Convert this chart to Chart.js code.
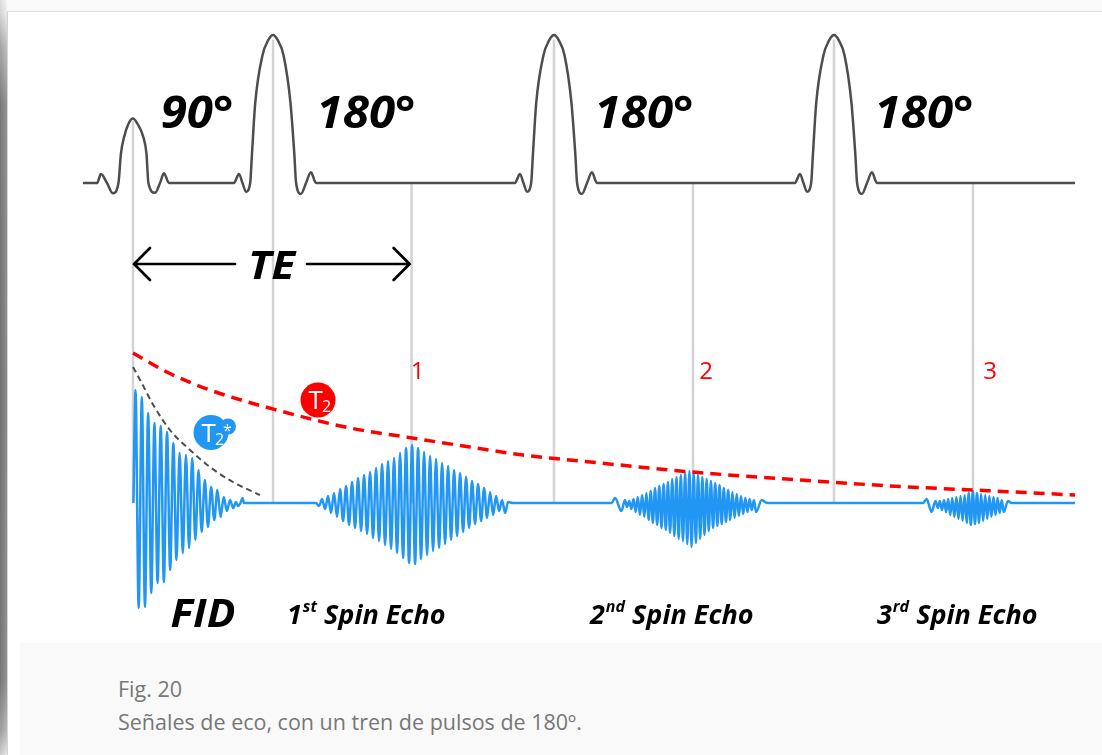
<!DOCTYPE html>
<html lang="es">
<head>
<meta charset="utf-8">
<title>Señales de eco</title>
<script src="https://cdn.jsdelivr.net/npm/chart.js@4.4.1/dist/chart.umd.min.js"></script>
<style>
  html, body { margin: 0; padding: 0; background: #f9f9f9; }
  #page { position: relative; width: 1102px; height: 755px; overflow: hidden; background: #f9f9f9; }
  #shade {
    position: absolute; left: 0; top: 0; width: 7px; height: 755px;
    background:
      linear-gradient(to right, rgba(0,0,0,0.10), rgba(255,255,255,0.12)),
      linear-gradient(to bottom, #f6f6f6 0px, #ececec 12px, #b8b8b8 45px, #868686 105px,
                      #7c7c7c 400px, #848484 680px, #aeaeae 730px, #e2e2e2 755px);
  }
  #panel {
    position: absolute; left: 7px; top: 11px; right: 0; bottom: 0;
    background: #fff; border-top: 1px solid #dedede; border-left: 1px solid #d4d4d4;
  }
  #caption { position: absolute; left: 20px; top: 643px; right: 0; bottom: 0; background: #f9f9f9; }
  #captext {
    position: absolute; left: 98px; top: 29px;
    font-family: "Open Sans", sans-serif; font-size: 21.5px; line-height: 33px; color: #777;
    white-space: nowrap;
  }
  #chart { position: absolute; left: 0; top: 0; }
</style>
</head>
<body>
<div id="page">
  <div id="shade"></div>
  <div id="panel"></div>
  <div id="caption">
    <div id="captext">Fig. 20<br>Señales de eco, con un tren de pulsos de 180º.</div>
  </div>
  <canvas id="chart" width="1102" height="755"></canvas>
</div>
<script>
// ---- timing (ms) ----
const PULSE_TIMES = [0, 10, 30.07, 50.07];
const PULSE_LABELS = ['90°', '180°', '180°', '180°'];
const ECHO_TIMES = [19.9, 40.0, 60.0];
const ECHO_NUMBERS = ['1', '2', '3'];
const ECHO_NAMES = [['1', 'st'], ['2', 'nd'], ['3', 'rd']];
const RF_START = -3.57, RF_END = 67.29, SIGNAL_END = 67.29;

// ---- RF pulse outlines: [offset ms, amplitude (180° = 1)] ----
const PULSE_90_SHAPE = [[-2.57, 0], [-2.29, 0.06], [-1.86, 0], [-1.43, -0.07], [-1.04, 0], [-0.86, 0.2],
  [-0.64, 0.31], [-0.32, 0.40], [0, 0.435], [0.32, 0.40], [0.74, 0.31], [0.96, 0.2], [1.1, 0],
  [1.57, -0.066], [1.93, 0], [2.21, 0.066], [2.57, 0]];
const PULSE_180_SHAPE = [[-2.79, 0], [-2.43, 0.061], [-2.18, 0], [-1.93, -0.059], [-1.63, 0], [-1.5, 0.2],
  [-1.27, 0.54], [-0.76, 0.86], [-0.34, 0.965], [0, 1], [0.34, 0.965], [0.76, 0.86], [1.25, 0.54],
  [1.52, 0.2], [1.65, 0], [2.0, -0.074], [2.36, 0], [2.71, 0.072], [3.07, 0]];

// ---- received signal: alternating extrema of each burst ----
const FID_START = 0.18, FID_STEP = 0.225;
const FID_PEAKS = [1.13, -1.05, 1.06, -1.04, 0.90, -0.90, 0.80, -0.80, 0.77, -0.79, 0.71, -0.67,
  0.60, -0.57, 0.50, -0.50, 0.48, -0.45, 0.45, -0.37, 0.33, -0.29, 0.23, -0.24, 0.16, -0.17,
  0.13, -0.14, 0.06, -0.08, 0.03, -0.05];
const FID_TAIL = [[7.36, 0.01], [7.5, -0.03], [7.68, 0], [7.82, 0.05], [7.93, 0]];

const ECHO1_LEAD = [[13.07, 0]];
const ECHO1_START = 13.29, ECHO1_STEP = 0.2143;
const ECHO1_PEAKS = [-0.03, 0.04, -0.06, 0.07, -0.10, 0.10, -0.14, 0.14, -0.18, 0.17, -0.22, 0.21,
  -0.25, 0.25, -0.28, 0.28, -0.31, 0.31, -0.35, 0.35, -0.38, 0.39, -0.42, 0.42, -0.46, 0.45,
  -0.50, 0.50, -0.55, 0.55, -0.60, 0.58, -0.61, 0.55, -0.56, 0.51, -0.52, 0.47, -0.48, 0.44,
  -0.45, 0.40, -0.41, 0.37, -0.37, 0.33, -0.33, 0.30, -0.29, 0.26, -0.25, 0.22, -0.21, 0.19,
  -0.18, 0.15, -0.15, 0.11, -0.12, 0.07, -0.08, 0.03, -0.10];
const ECHO1_TAIL = [[26.79, 0.01], [27.14, 0]];

const ECHO2_LEAD = [[34.19, 0], [34.43, 0.05], [34.89, -0.08], [35.14, 0.03]];
const ECHO2_START = 35.29, ECHO2_STEP = 0.1536;
const ECHO2_PEAKS = [-0.04, 0.02, -0.06, 0.04, -0.09, 0.06, -0.12, 0.08, -0.14, 0.10, -0.17, 0.12,
  -0.20, 0.15, -0.22, 0.17, -0.25, 0.19, -0.27, 0.21, -0.30, 0.24, -0.33, 0.26, -0.36, 0.28,
  -0.38, 0.30, -0.41, 0.32, -0.44, 0.30, -0.40, 0.28, -0.36, 0.26, -0.32, 0.24, -0.28, 0.22,
  -0.25, 0.20, -0.23, 0.18, -0.21, 0.15, -0.19, 0.13, -0.17, 0.11, -0.15, 0.09, -0.13, 0.07,
  -0.11, 0.05, -0.09, 0.04, -0.07, 0.03, -0.09];
const ECHO2_TAIL = [[44.91, 0.03], [45.29, 0]];

const ECHO3_LEAD = [[56.43, 0], [56.69, 0.04], [57.04, -0.09], [57.32, 0.02]];
const ECHO3_START = 57.49, ECHO3_STEP = 0.1471;
const ECHO3_PEAKS = [-0.05, 0.02, -0.07, 0.03, -0.09, 0.04, -0.12, 0.05, -0.14, 0.06, -0.16, 0.07,
  -0.18, 0.08, -0.20, 0.10, -0.22, 0.12, -0.21, 0.10, -0.20, 0.09, -0.18, 0.08, -0.16, 0.07,
  -0.14, 0.06, -0.12, 0.05, -0.10, 0.03, -0.09];
const ECHO3_TAIL = [[62.5, 0.02], [62.76, 0]];

// ---- decay envelopes ----
const T2_STAR_CURVE = [[0, 1.36], [0.62, 1.20], [1.45, 0.98], [2.64, 0.73], [4.07, 0.53],
  [5.5, 0.36], [7.14, 0.21], [9.07, 0.08]];
const T2_CURVE = [[0, 1.50], [2.41, 1.31], [5.5, 1.13], [10.26, 0.93], [15.5, 0.75], [19.93, 0.65],
  [24.07, 0.56], [27.86, 0.48], [33.36, 0.40], [39.93, 0.31], [47.64, 0.23], [54.79, 0.165],
  [60.0, 0.13], [67.29, 0.08]];

// ---- build point lists ----
const toPts = pairs => pairs.map(([x, y]) => ({ x, y }));
const burst = (start, step, peaks) => peaks.map((y, i) => ({ x: start + i * step, y }));

const rfPoints = [{ x: RF_START, y: 0 }];
PULSE_TIMES.forEach((t, i) => {
  const shape = i === 0 ? PULSE_90_SHAPE : PULSE_180_SHAPE;
  shape.forEach(([dt, a]) => rfPoints.push({ x: t + dt, y: a }));
});
rfPoints.push({ x: RF_END, y: 0 });

const signalPoints = [{ x: 0.03, y: 0 }]
  .concat(burst(FID_START, FID_STEP, FID_PEAKS), toPts(FID_TAIL))
  .concat(toPts(ECHO1_LEAD), burst(ECHO1_START, ECHO1_STEP, ECHO1_PEAKS), toPts(ECHO1_TAIL))
  .concat(toPts(ECHO2_LEAD), burst(ECHO2_START, ECHO2_STEP, ECHO2_PEAKS), toPts(ECHO2_TAIL))
  .concat(toPts(ECHO3_LEAD), burst(ECHO3_START, ECHO3_STEP, ECHO3_PEAKS), toPts(ECHO3_TAIL))
  .concat([{ x: SIGNAL_END, y: 0 }]);

const RED = '#ff0000', BLUE = '#2196f3', GREY = '#4d4d4d';
const BOLD_IT = '"Open Sans", "DejaVu Sans", sans-serif';

// vertical guides from each pulse / echo down to the signal baseline
const guides = {
  id: 'guides',
  beforeDatasetsDraw(chart) {
    const { ctx, scales: { x, yRf, ySig } } = chart;
    const base = ySig.getPixelForValue(0);
    ctx.save();
    ctx.strokeStyle = '#d4d4d4';
    ctx.lineWidth = 2.5;
    ctx.beginPath();
    PULSE_TIMES.forEach((t, i) => {
      const px = x.getPixelForValue(t);
      ctx.moveTo(px, yRf.getPixelForValue(i === 0 ? 0.42 : 0.97));
      ctx.lineTo(px, base);
    });
    ECHO_TIMES.forEach(t => {
      const px = x.getPixelForValue(t);
      ctx.moveTo(px, yRf.getPixelForValue(0) + 1);
      ctx.lineTo(px, base);
    });
    ctx.stroke();
    ctx.restore();
  }
};

// centred text with a slight horizontal widening
function wideText(ctx, text, cx, y, sx) {
  ctx.save();
  ctx.translate(cx, y);
  ctx.scale(sx, 1);
  ctx.textAlign = 'center';
  ctx.fillText(text, 0, 0);
  ctx.restore();
}

function badge(ctx, cx, cy, color, star) {
  ctx.fillStyle = color;
  ctx.beginPath();
  ctx.arc(cx, cy, 17.5, 0, Math.PI * 2);
  ctx.fill();
  if (star) {
    ctx.beginPath();
    ctx.arc(cx + 17, cy - 6, 8, 0, Math.PI * 2);
    ctx.fill();
  }
  ctx.fillStyle = '#fff';
  ctx.textAlign = 'left';
  ctx.textBaseline = 'alphabetic';
  ctx.font = '26px "Open Sans", sans-serif';
  ctx.fillText('T', cx - 9.5, cy + 9.3);
  ctx.font = '16px "Open Sans", sans-serif';
  ctx.fillText('2', cx + 4, cy + 12);
  if (star) {
    ctx.font = '16px "Open Sans", sans-serif';
    ctx.textAlign = 'center';
    ctx.fillText('*', cx + 16.5, cy + 3);
  }
}

const annotations = {
  id: 'annotations',
  afterDatasetsDraw(chart) {
    const { ctx, scales: { x } } = chart;
    ctx.save();
    ctx.fillStyle = '#000';
    ctx.textBaseline = 'alphabetic';

    // flip-angle labels
    ctx.font = 'italic 700 44px ' + BOLD_IT;
    const labelOffsets = [64, 93, 90, 90];
    PULSE_TIMES.forEach((t, i) => {
      wideText(ctx, PULSE_LABELS[i], x.getPixelForValue(t) + labelOffsets[i], 128, 1.08);
    });

    // TE arrow
    const x0 = x.getPixelForValue(0), x1 = x.getPixelForValue(ECHO_TIMES[0]);
    const ay = 264;
    ctx.strokeStyle = '#000';
    ctx.lineWidth = 2.7;
    ctx.lineCap = 'round';
    ctx.beginPath();
    ctx.moveTo(x0 + 1, ay); ctx.lineTo(235, ay);
    ctx.moveTo(307, ay); ctx.lineTo(x1 - 2, ay);
    ctx.moveTo(x0 + 17, ay - 16); ctx.lineTo(x0 + 1, ay); ctx.lineTo(x0 + 17, ay + 16);
    ctx.moveTo(x1 - 18, ay - 16); ctx.lineTo(x1 - 2, ay); ctx.lineTo(x1 - 18, ay + 16);
    ctx.stroke();
    ctx.font = 'italic 700 40px ' + BOLD_IT;
    wideText(ctx, 'TE', 271.5, 278.5, 1.1);

    // echo numbers
    ctx.fillStyle = RED;
    ctx.textAlign = 'center';
    ctx.font = '24px "Open Sans", sans-serif';
    const numOffsets = [6, 13, 17];
    ECHO_TIMES.forEach((t, i) => {
      ctx.fillText(ECHO_NUMBERS[i], x.getPixelForValue(t) + numOffsets[i], 379);
    });

    // decay badges
    badge(ctx, 318, 400, RED, false);
    badge(ctx, 211, 432.5, BLUE, true);

    // bottom labels
    ctx.fillStyle = '#000';
    ctx.font = 'italic 700 40px ' + BOLD_IT;
    wideText(ctx, 'FID', 203, 627, 1.06);
    ctx.textAlign = 'left';
    const nameLefts = [287, 590, 877];
    ECHO_NAMES.forEach(([n, sup], i) => {
      let px = nameLefts[i];
      ctx.font = 'italic 700 27px ' + BOLD_IT;
      ctx.fillText(n, px, 624);
      px += ctx.measureText(n).width + 1;
      ctx.font = 'italic 700 16px ' + BOLD_IT;
      ctx.fillText(sup, px, 612);
      px += ctx.measureText(sup).width;
      ctx.font = 'italic 700 27px ' + BOLD_IT;
      ctx.fillText(' Spin Echo', px, 624);
    });
    ctx.restore();
  }
};

new Chart(document.getElementById('chart'), {
  type: 'line',
  data: {
    datasets: [
      { data: toPts(T2_CURVE), yAxisID: 'ySig', borderColor: RED, borderWidth: 3.5,
        borderDash: [11, 7], cubicInterpolationMode: 'monotone', pointRadius: 0 },
      { data: toPts(T2_STAR_CURVE), yAxisID: 'ySig', borderColor: GREY, borderWidth: 2,
        borderDash: [6, 4], cubicInterpolationMode: 'monotone', pointRadius: 0 },
      { data: signalPoints, yAxisID: 'ySig', borderColor: BLUE, borderWidth: 2.5,
        cubicInterpolationMode: 'monotone', pointRadius: 0 },
      { data: rfPoints, yAxisID: 'yRf', borderColor: GREY, borderWidth: 2.5,
        cubicInterpolationMode: 'monotone', pointRadius: 0 }
    ]
  },
  options: {
    responsive: false,
    animation: false,
    events: [],
    layout: { padding: 0 },
    plugins: { legend: { display: false }, tooltip: { enabled: false } },
    scales: {
      x: { type: 'linear', axis: 'x', min: -9.5, max: 69.214, display: false },
      yRf: { type: 'linear', axis: 'y', min: -3.8649, max: 1.2365, display: false },
      ySig: { type: 'linear', axis: 'y', min: -2.52, max: 5.03, display: false }
    }
  },
  plugins: [guides, annotations]
});
</script>
</body>
</html>
